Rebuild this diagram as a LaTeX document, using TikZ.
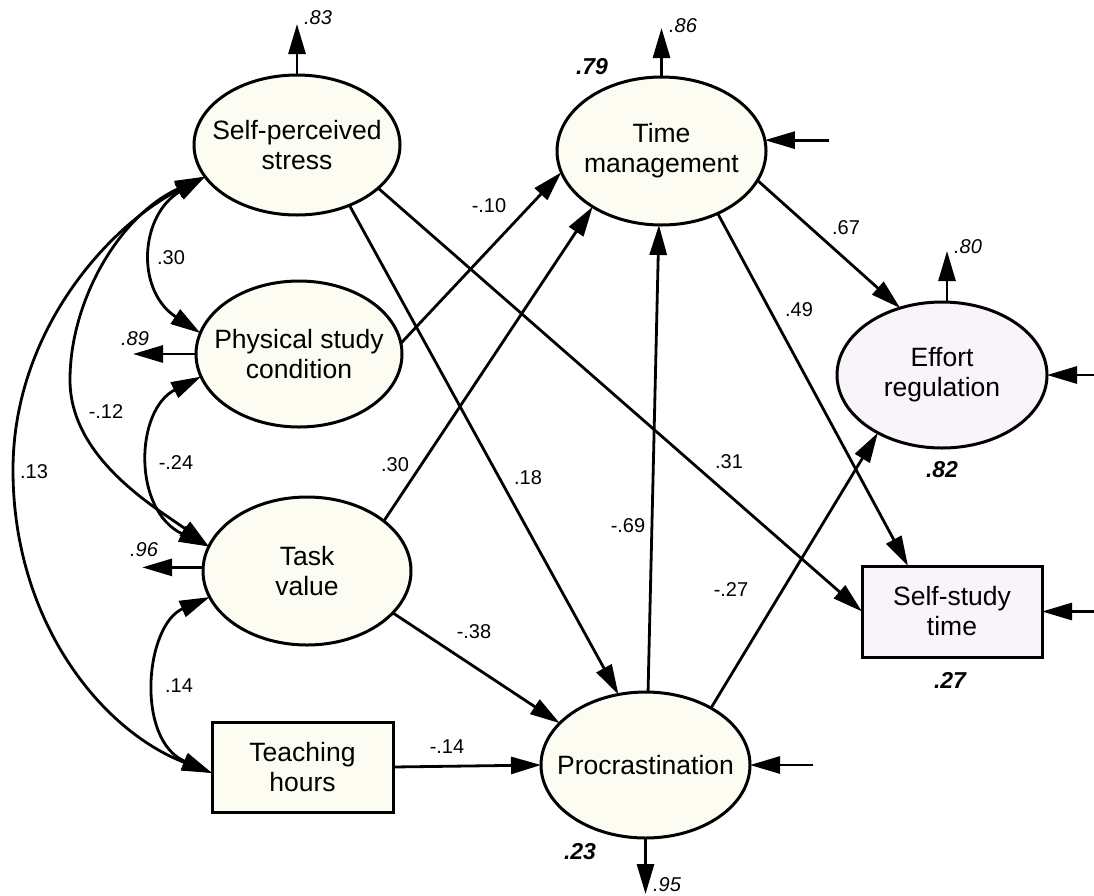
\documentclass[tikz,border=0pt]{standalone}
\usepackage{fontspec}
\setmainfont{Liberation Sans}
\usetikzlibrary{shapes.geometric,arrows.meta}
\definecolor{cream}{RGB}{252,252,242}
\definecolor{lav}{RGB}{248,244,250}
\tikzset{
  ell/.style={ellipse, draw, line width=3pt, fill=cream, inner sep=0pt, outer sep=0pt},
  box/.style={rectangle, draw, line width=3pt, fill=cream, inner sep=0pt, outer sep=0pt, align=center, font=\fontsize{26.5}{30}\selectfont},
  lbl/.style={align=center, font=\fontsize{26.5}{30}\selectfont, inner sep=0pt},
  arr/.style={line width=2.8pt, -{Triangle[length=30pt,width=17pt]}},
  cov/.style={line width=2.8pt, {Triangle[length=30pt,width=17pt]}-{Triangle[length=30pt,width=17pt]}},
  coef/.style={font=\fontsize{20}{20}\selectfont, inner sep=0pt},
  errv/.style={font=\fontsize{20}{20}\selectfont\itshape, inner sep=0pt},
  rsq/.style={font=\fontsize{23}{23}\selectfont\bfseries\itshape, inner sep=0pt},
}
\begin{document}
\begin{tikzpicture}[x=1pt,y=-1pt]
\useasboundingbox (0,0) rectangle (1094,895);

% nodes
\node[ell, minimum width=206pt, minimum height=140pt, label={[lbl]center:{Self-perceived\\stress}}] (stress) at (297,145) {};
\node[ell, minimum width=206pt, minimum height=146pt, label={[lbl]center:{Physical study\\condition}}] (phys) at (299,354) {};
\node[ell, minimum width=208pt, minimum height=148pt, label={[lbl]center:{Task\\value}}] (task) at (307,571) {};
\node[ell, minimum width=209pt, minimum height=148pt, label={[lbl]center:{Time\\management}}] (tm) at (661.5,151) {};
\node[ell, fill=lav, minimum width=210pt, minimum height=146pt, label={[lbl]center:{Effort\\regulation}}] (er) at (942,375) {};
\node[ell, minimum width=209pt, minimum height=146pt, label={[lbl]center:{Procrastination}}] (procr) at (645.5,765) {};
\node[box, minimum width=181pt, minimum height=90pt] (teach) at (302.5,767) {Teaching\\hours};
\node[box, fill=lav, minimum width=180pt, minimum height=91pt] (ss) at (952,611.5) {Self-study\\time};

% free ends of residual arrows
\coordinate (stressE) at ([yshift=51pt]stress.north);
\coordinate (tmE) at ([yshift=49pt]tm.north);
\coordinate (erS) at ([xshift=5pt]er.north);
\coordinate (erE) at ([yshift=51pt]erS);
\coordinate (procrE) at ([yshift=-56pt]procr.south);
\coordinate (physE) at ([xshift=-63pt]phys.west);
\coordinate (taskS) at (task.178);
\coordinate (taskE) at ([xshift=-61pt]taskS);
\coordinate (tmIn) at ([xshift=64pt]tm.6);
\coordinate (erIn) at ([xshift=47pt]er.east);
\coordinate (ssIn) at ([xshift=52pt]ss.east);
\coordinate (procrIn) at ([xshift=63pt]procr.east);
\coordinate (ssN) at ([xshift=46pt]ss.north west);
\coordinate (teachIn) at ([yshift=-6pt]teach.west);

% residual arrows
\draw[arr] (stress.north) -- (stressE);
\draw[arr] (tm.north) -- (tmE);
\draw[arr] (erS) -- (erE);
\draw[arr] (procr.south) -- (procrE);
\draw[arr] (phys.west) -- (physE);
\draw[arr] (taskS) -- (taskE);
\draw[arr] (tmIn) -- (tm.6);
\draw[arr] (erIn) -- (er.east);
\draw[arr] (ssIn) -- (ss.east);
\draw[arr] (procrIn) -- (procr.east);

% structural paths
\draw[arr] (stress.-49) -- (procr.111);
\draw[arr] (stress.-28) -- (ss.west);
\draw[arr] (phys.6) -- (tm.192);
\draw[arr] (task.33) -- (tm.-141);
\draw[arr] (task.-26) -- (procr.154);
\draw[arr] (procr.88) -- (tm.-92);
\draw[arr] (procr.41) -- (er.-138);
\draw[arr] (tm.-17) -- (er.122);
\draw[arr] (tm.-48) -- (ssN);
\draw[arr] (teach.east) -- (procr.west);

% covariances
\draw[cov] (stress.199) .. controls (140,215) and (135,290) .. (phys.168);
\draw[cov] (phys.193) .. controls (135,410) and (132,510) .. (task.166);
\draw[cov] (stress.199) .. controls (120,215) and (70,300) .. (70,380) .. controls (70,460) and (160,510) .. (task.166);
\draw[cov] (task.195) .. controls (145,625) and (135,740) .. (teachIn);
\draw[cov] (stress.199) .. controls (110,225) and (13,330) .. (13,470) .. controls (13,620) and (100,730) .. (teachIn);

% coefficients
\node[coef] (k1) at (171,258) {.30};
\node[coef] (k2) at (106,412) {-.12};
\node[coef] (k3) at (176,463) {-.24};
\node[coef] (k4) at (34,472) {.13};
\node[coef] (k5) at (179,686) {.14};
\node[coef] (k6) at (395,465) {.30};
\node[coef] (k7) at (489,206) {-.10};
\node[coef] (k8) at (528,478) {.18};
\node[coef] (k9) at (729,462) {.31};
\node[coef] (k10) at (799,310) {.49};
\node[coef] (k11) at (628,526) {-.69};
\node[coef] (k12) at (846,228) {.67};
\node[coef] (k13) at (474,632) {-.38};
\node[coef] (k14) at (731,590) {-.27};
\node[coef] (k15) at (447,747) {-.14};

% residual variances
\node[errv] (e1) at (318,18) {.83};
\node[errv] (e2) at (683,26) {.86};
\node[errv] (e3) at (968,247) {.80};
\node[errv] (e4) at (135,339) {.89};
\node[errv] (e5) at (144,550) {.96};
\node[errv] (e6) at (667,885) {.95};

% squared multiple correlations
\node[rsq] (r1) at (592,67) {.79};
\node[rsq] (r2) at (942,470) {.82};
\node[rsq] (r3) at (580,852) {.23};
\node[rsq] (r4) at (950,680) {.27};
\end{tikzpicture}
\end{document}
